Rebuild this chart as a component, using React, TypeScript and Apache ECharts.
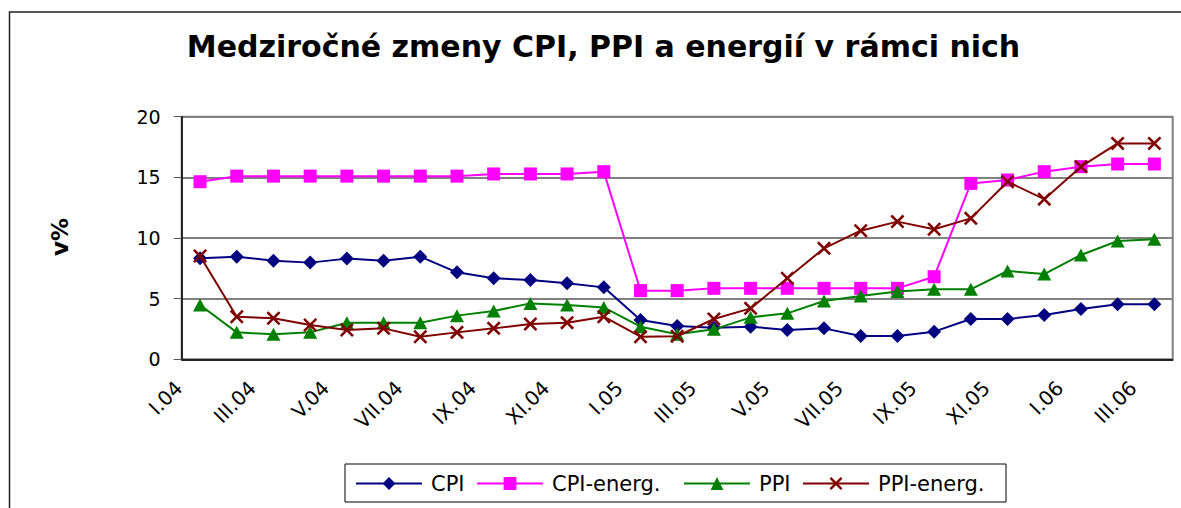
import React, { useEffect, useRef } from "react";
import * as echarts from "echarts";

const months = [
  "I.04", "II.04", "III.04", "IV.04", "V.04", "VI.04", "VII.04", "VIII.04", "IX.04", "X.04", "XI.04", "XII.04",
  "I.05", "II.05", "III.05", "IV.05", "V.05", "VI.05", "VII.05", "VIII.05", "IX.05", "X.05", "XI.05", "XII.05",
  "I.06", "II.06", "III.06",
];

const cpi = [8.33, 8.46, 8.13, 7.97, 8.3, 8.13, 8.46, 7.17, 6.68, 6.54, 6.26, 5.93, 3.24, 2.75, 2.61, 2.69, 2.42, 2.55, 1.92, 1.92, 2.28, 3.32, 3.32, 3.65, 4.15, 4.53, 4.53];
const cpiEnerg = [14.64, 15.1, 15.1, 15.1, 15.1, 15.1, 15.1, 15.1, 15.28, 15.28, 15.28, 15.47, 5.66, 5.66, 5.85, 5.85, 5.85, 5.85, 5.85, 5.85, 6.81, 14.5, 14.78, 15.47, 15.88, 16.1, 16.1];
const ppi = [4.48, 2.22, 2.06, 2.22, 3.02, 3.02, 3.02, 3.6, 3.98, 4.61, 4.48, 4.28, 2.69, 2.06, 2.47, 3.46, 3.79, 4.81, 5.22, 5.58, 5.77, 5.77, 7.28, 7.03, 8.6, 9.75, 9.89];
const ppiEnerg = [8.52, 3.51, 3.38, 2.83, 2.42, 2.55, 1.86, 2.22, 2.55, 2.91, 3.02, 3.51, 1.86, 1.9, 3.32, 4.2, 6.68, 9.15, 10.6, 11.35, 10.72, 11.62, 14.64, 13.2, 15.88, 17.8, 17.8];

const seriesNames = ["CPI", "CPI-energ.", "PPI", "PPI-energ."];
const seriesColors = ["#000080", "#FF00FF", "#008000", "#800000"];
const titleText = "Medziročné zmeny CPI, PPI a energií v rámci nich";
const yAxisTitle = "v%";

const FONT = "'DejaVu Sans', sans-serif";
const X_SYMBOL =
  "path://M0,1.3L1.3,0L5,3.7L8.7,0L10,1.3L6.3,5L10,8.7L8.7,10L5,6.3L1.3,10L0,8.7L3.7,5Z";

export default function App() {
  const ref = useRef<HTMLDivElement>(null);
  useEffect(() => {
    document.body.style.margin = "0";
    const chart = echarts.init(ref.current!, null, { renderer: "svg" });
    const dataSets = [cpi, cpiEnerg, ppi, ppiEnerg];
    const symbols = ["diamond", "rect", "triangle", X_SYMBOL];
    const sizes: any[] = [[14, 14], [13, 13], [14, 13], [14, 14]];
    const legendLefts = [355, 476, 683, 802];
    const option: any = {
      animation: false,
      backgroundColor: "#fff",
      grid: {
        left: 181.7,
        right: 8.3,
        top: 116.7,
        bottom: 148.7,
        show: true,
        borderColor: "#808080",
        borderWidth: 2,
      },
      xAxis: {
        type: "category",
        data: months,
        boundaryGap: true,
        axisLine: { lineStyle: { color: "#000", width: 1.5 } },
        axisTick: { interval: 1, length: 6, lineStyle: { color: "#333", width: 1 } },
        axisLabel: {
          interval: 1,
          rotate: 45,
          margin: 4,
          padding: [0, 30, 0, 0],
          fontFamily: FONT,
          fontSize: 20,
          color: "#000",
        },
        splitLine: { show: false },
      },
      yAxis: {
        type: "value",
        min: 0,
        max: 20,
        interval: 5,
        axisLine: { show: true, lineStyle: { color: "#000", width: 1.5 } },
        axisTick: { show: true, length: 8, lineStyle: { color: "#555" } },
        axisLabel: { margin: 21, fontFamily: FONT, fontSize: 19, color: "#000" },
        splitLine: { show: true, lineStyle: { color: "#808080", width: 2 } },
      },
      legend: seriesNames.map((n, i) => ({
        data: [n],
        left: legendLefts[i],
        top: 473,
        padding: 0,
        itemWidth: 66,
        itemHeight: 16,
        textStyle: { fontFamily: FONT, fontSize: 21, color: "#000", padding: [0, 0, 0, 4] },
      })),
      graphic: [
        {
          type: "rect",
          shape: { x: 9.5, y: 12, width: 1300, height: 700 },
          style: { fill: "none", stroke: "#222", lineWidth: 1.5 },
          silent: true,
          z: 100,
        },
        {
          type: "rect",
          shape: { x: 345, y: 464, width: 661, height: 38 },
          style: { fill: "none", stroke: "#000", lineWidth: 1 },
          silent: true,
          z: 100,
        },
        {
          type: "text",
          x: 603.5,
          y: 46,
          style: {
            text: titleText,
            align: "center",
            verticalAlign: "middle",
            fontFamily: FONT,
            fontSize: 30,
            fontWeight: "bold",
            fill: "#000",
          },
        },
        {
          type: "text",
          x: 60,
          y: 237,
          rotation: Math.PI / 2,
          style: {
            text: yAxisTitle,
            align: "center",
            verticalAlign: "middle",
            fontFamily: FONT,
            fontSize: 23,
            fontWeight: "bold",
            fill: "#000",
          },
        },
      ],
      series: seriesNames.map((n, i) => ({
        name: n,
        type: "line",
        data: dataSets[i],
        symbol: symbols[i],
        symbolSize: sizes[i],
        showAllSymbol: true,
        lineStyle: { color: seriesColors[i], width: 2 },
        itemStyle: { color: seriesColors[i] },
        z: 3 + i,
      })),
    };
    chart.setOption(option);
    return () => chart.dispose();
  }, []);
  return <div ref={ref} style={{ width: 1181, height: 508 }} />;
}
